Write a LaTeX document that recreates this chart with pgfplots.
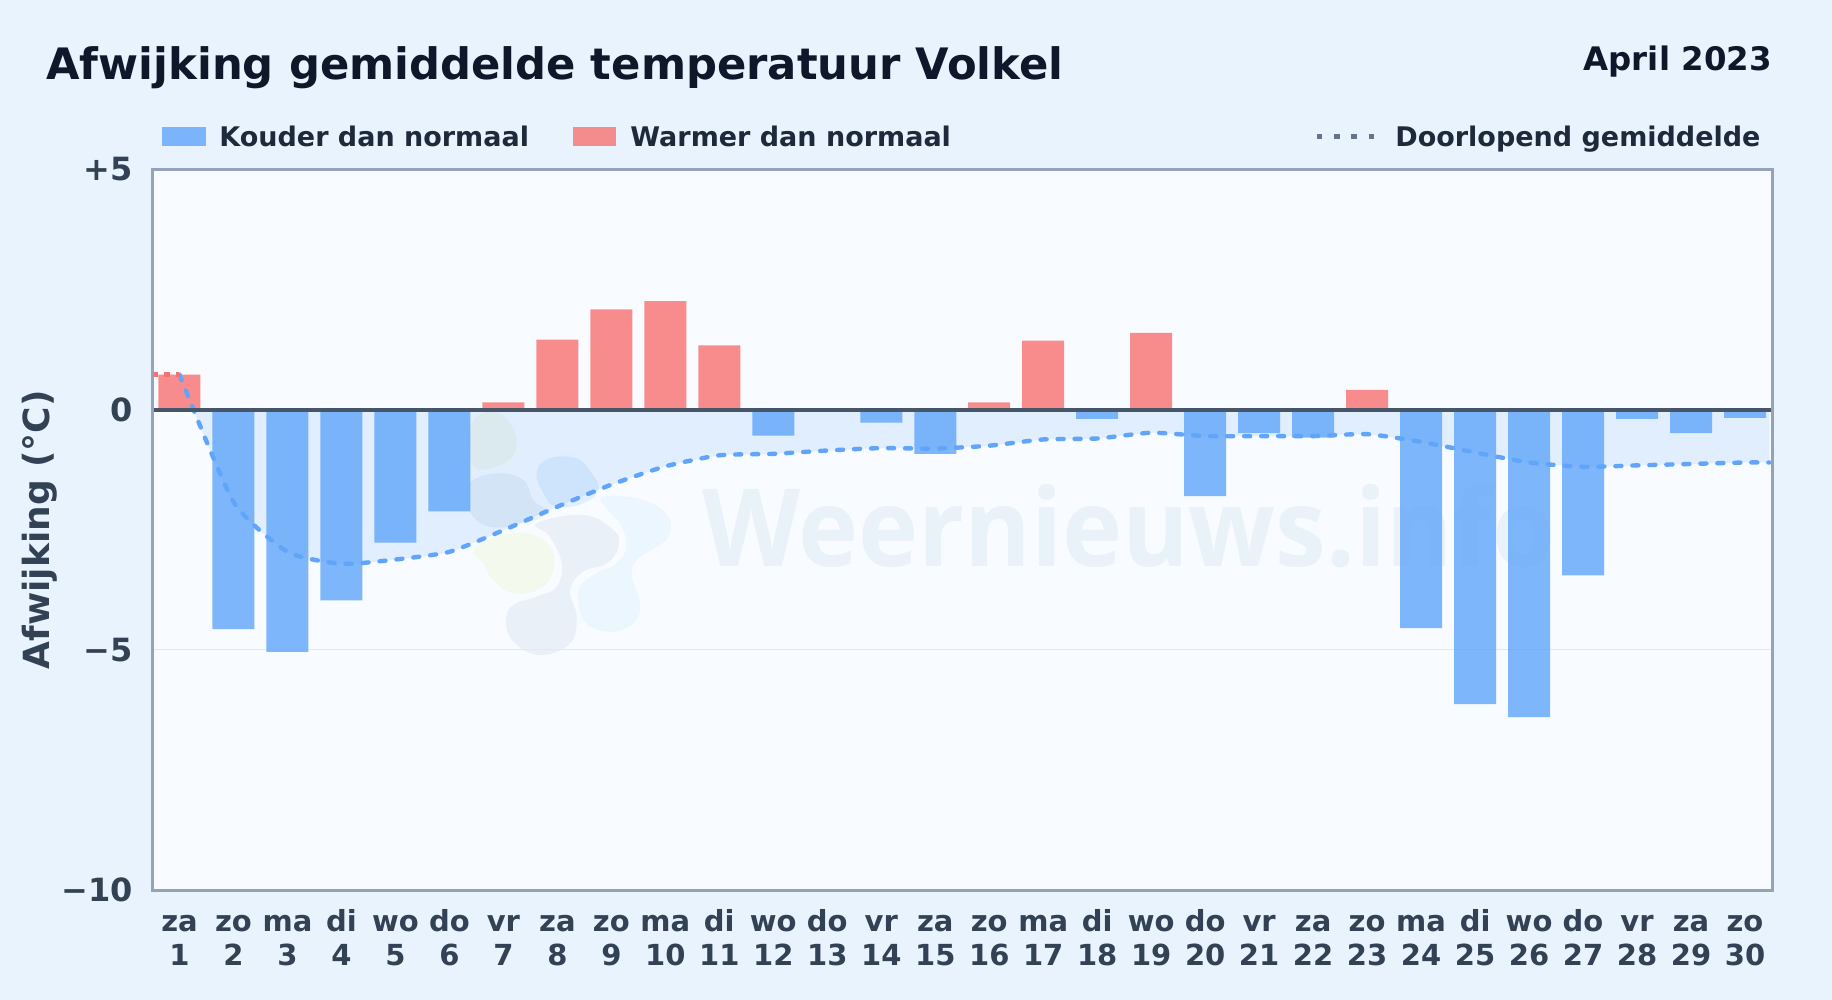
\documentclass[border=0pt]{standalone}
\usepackage{fontspec}
\setmainfont{DejaVu Sans}
\newfontfamily\wmfont{Open Sans}
\usepackage{pgfplots}
\usepackage{pgfplotstable}
\pgfplotsset{compat=1.18}

\definecolor{pagebg}{HTML}{E8F3FD}
\definecolor{plotbg}{HTML}{F8FBFF}
\definecolor{frame}{HTML}{94A3B8}
\definecolor{zeroline}{HTML}{475569}
\definecolor{gridc}{HTML}{E2E8F0}
\definecolor{cold}{HTML}{60A5FA}
\definecolor{warm}{HTML}{F87171}
\definecolor{meanblue}{HTML}{60A5FA}
\definecolor{ticktext}{HTML}{334155}
\definecolor{legtext}{HTML}{1E293B}
\definecolor{titletext}{HTML}{0F172A}
\definecolor{legdot}{HTML}{64748B}
\definecolor{wmark}{HTML}{E9F1F9}
\definecolor{logogreen}{HTML}{F0F7EC}
\definecolor{logoslate}{HTML}{E8F0F7}
\definecolor{logosky}{HTML}{E2F0FE}
\definecolor{logoyellow}{HTML}{F4F9EE}
\definecolor{logogray}{HTML}{E9F0F8}
\definecolor{logoice}{HTML}{EBF6FE}

% day name over day number, same height whatever the letters
\newcommand\dl[2]{\vphantom{d}#1\\#2}

% daily deviation, negative and positive days apart
\pgfplotstableread{
day dev
2 -4.57
3 -5.04
4 -3.97
5 -2.77
6 -2.12
12 -0.54
14 -0.27
15 -0.92
18 -0.19
20 -1.80
21 -0.49
22 -0.58
24 -4.55
25 -6.13
26 -6.40
27 -3.45
28 -0.19
29 -0.49
30 -0.17
}\colddays
\pgfplotstableread{
day dev
1 0.73
7 0.15
8 1.46
9 2.09
10 2.26
11 1.34
16 0.15
17 1.44
19 1.60
23 0.41
}\warmdays
% running mean
\pgfplotstableread{
day mean
1 0.73
2 -1.92
3 -2.96
4 -3.21
5 -3.12
6 -2.96
7 -2.51
8 -2.02
9 -1.56
10 -1.18
11 -0.95
12 -0.92
13 -0.85
14 -0.80
15 -0.81
16 -0.75
17 -0.62
18 -0.60
19 -0.48
20 -0.55
21 -0.55
22 -0.55
23 -0.51
24 -0.67
25 -0.89
26 -1.10
27 -1.19
28 -1.16
29 -1.13
30 -1.10
30.45 -1.10
}\runmean

\begin{document}
\begin{tikzpicture}[x=0.5pt,y=-0.5pt]
\useasboundingbox (0,0) rectangle (1832,1000);
\fill[pagebg] (0,0) rectangle (1832,1000);
\fill[plotbg] (152.5,169.5) rectangle (1772,890);
\coordinate (axpos) at (152.5,890);

% watermark, behind the plot
\node[anchor=base west,inner sep=0pt,text=wmark,xscale=.94,font=\wmfont\bfseries\fontsize{54pt}{54pt}\selectfont] at (702,566) {Weernieuws.info};
\begin{scope}[shift={(350,400)},x=0.16667pt,y=-0.16667pt]
\fill[logogreen] plot[smooth cycle,tension=.7] coordinates {(370,60)(430,35)(480,70)(500,130)(470,185)(380,205)(355,130)};
\fill[logoslate] plot[smooth cycle,tension=.7] coordinates {(350,290)(370,240)(450,220)(520,240)(550,300)(590,340)(500,375)(420,380)(370,350)};
\fill[logosky] plot[smooth cycle,tension=.7] coordinates {(560,215)(600,175)(680,175)(725,220)(745,270)(700,310)(620,320)(580,280)};
\fill[logoyellow] plot[smooth cycle,tension=.7] coordinates {(370,450)(440,410)(530,400)(600,440)(610,510)(570,565)(490,580)(430,540)(400,490)};
\fill[logogray] plot[smooth cycle,tension=.7] coordinates {(560,370)(700,345)(790,390)(805,440)(770,490)(700,515)(660,570)(680,650)(660,730)(570,765)(490,725)(468,660)(490,615)(560,590)(620,560)(635,490)(600,410)};
\fill[logoice] plot[smooth cycle,tension=.7] coordinates {(760,290)(880,300)(955,350)(955,410)(920,440)(860,480)(845,530)(870,610)(850,670)(780,695)(710,670)(685,610)(690,560)(740,520)(800,490)(830,440)(810,370)(770,325)};
\end{scope}

\begin{axis}[
    at={(axpos)},
    anchor=south west,
    scale only axis,
    width=809.75pt,
    height=360.25pt,
    xmin=0.5, xmax=30.5,
    ymin=-10, ymax=5,
    axis line style={draw=none},
    tick style={draw=none},
    xtick={1,...,30},
    xticklabels={\dl{za}{1},\dl{zo}{2},\dl{ma}{3},\dl{di}{4},\dl{wo}{5},\dl{do}{6},\dl{vr}{7},\dl{za}{8},\dl{zo}{9},\dl{ma}{10},\dl{di}{11},\dl{wo}{12},\dl{do}{13},\dl{vr}{14},\dl{za}{15},\dl{zo}{16},\dl{ma}{17},\dl{di}{18},\dl{wo}{19},\dl{do}{20},\dl{vr}{21},\dl{za}{22},\dl{zo}{23},\dl{ma}{24},\dl{di}{25},\dl{wo}{26},\dl{do}{27},\dl{vr}{28},\dl{za}{29},\dl{zo}{30}},
    xticklabel style={align=center,text=ticktext,font=\fontsize{14.5pt}{17pt}\selectfont\bfseries,yshift=-6.2pt},
    ytick={-10,-5,0,5},
    yticklabels={−10,−5,0,+5},
    yticklabel style={text=ticktext,font=\fontsize{16pt}{18pt}\selectfont\bfseries,xshift=-6.4pt},
    ymajorgrids,
    grid style={gridc,line width=0.6pt},
    ylabel={Afwijking (°C)},
    every axis y label/.style={at={(rel axis cs:0,0.5)},anchor=center,rotate=90,yshift=56.5pt,text=ticktext,font=\fontsize{18pt}{18pt}\selectfont\bfseries},
]
% area between zero and the running mean, only below zero
\begin{scope}
\clip (axis cs:0.5,0) rectangle (axis cs:30.5,-10);
\addplot[draw=none,fill=meanblue,fill opacity=.15,smooth,tension=.35] table[x=day,y=mean] {\runmean} \closedcycle;
\end{scope}
\addplot[ybar,bar width=21pt,bar shift=0pt,draw=none,fill=cold,fill opacity=.8] table[x=day,y=dev] {\colddays};
\addplot[ybar,bar width=21pt,bar shift=0pt,draw=none,fill=warm,fill opacity=.8] table[x=day,y=dev] {\warmdays};
\addplot[meanblue,line width=2.2pt,line cap=round,dash pattern=on 3pt off 5.5pt,smooth,tension=.35] table[x=day,y=mean] {\runmean};
\addplot[warm,line width=2.2pt,dash pattern=on 3pt off 3pt] coordinates {(0.5,0.73) (1,0.73)};
\addplot[zeroline,line width=2.1pt] coordinates {(0.5,0) (30.5,0)};
\end{axis}
\draw[frame,line width=1.5pt] (152.5,169.5) rectangle (1772,890);

% title
\node[anchor=base west,inner sep=0pt,text=titletext,font=\fontsize{21.65pt}{22pt}\selectfont\bfseries] at (46,80) {Afwijking gemiddelde temperatuur Volkel};
\node[anchor=base east,inner sep=0pt,text=titletext,font=\fontsize{16.2pt}{16pt}\selectfont\bfseries] at (1772,71) {April 2023};

% legend
\fill[cold,opacity=.8] (162,127) rectangle (206,146);
\node[anchor=base west,inner sep=0pt,text=legtext,font=\fontsize{13.5pt}{13.5pt}\selectfont\bfseries] at (219,146.5) {Kouder dan normaal};
\fill[warm,opacity=.8] (573,127) rectangle (616,146);
\node[anchor=base west,inner sep=0pt,text=legtext,font=\fontsize{13.5pt}{13.5pt}\selectfont\bfseries] at (630,146.5) {Warmer dan normaal};
\draw[legdot,line width=2.7pt,dash pattern=on 2.7pt off 5.9pt] (1317,136.7) -- (1375,136.7);
\node[anchor=base west,inner sep=0pt,text=legtext,font=\fontsize{13.5pt}{13.5pt}\selectfont\bfseries] at (1395,146.5) {Doorlopend gemiddelde};
\end{tikzpicture}
\end{document}
